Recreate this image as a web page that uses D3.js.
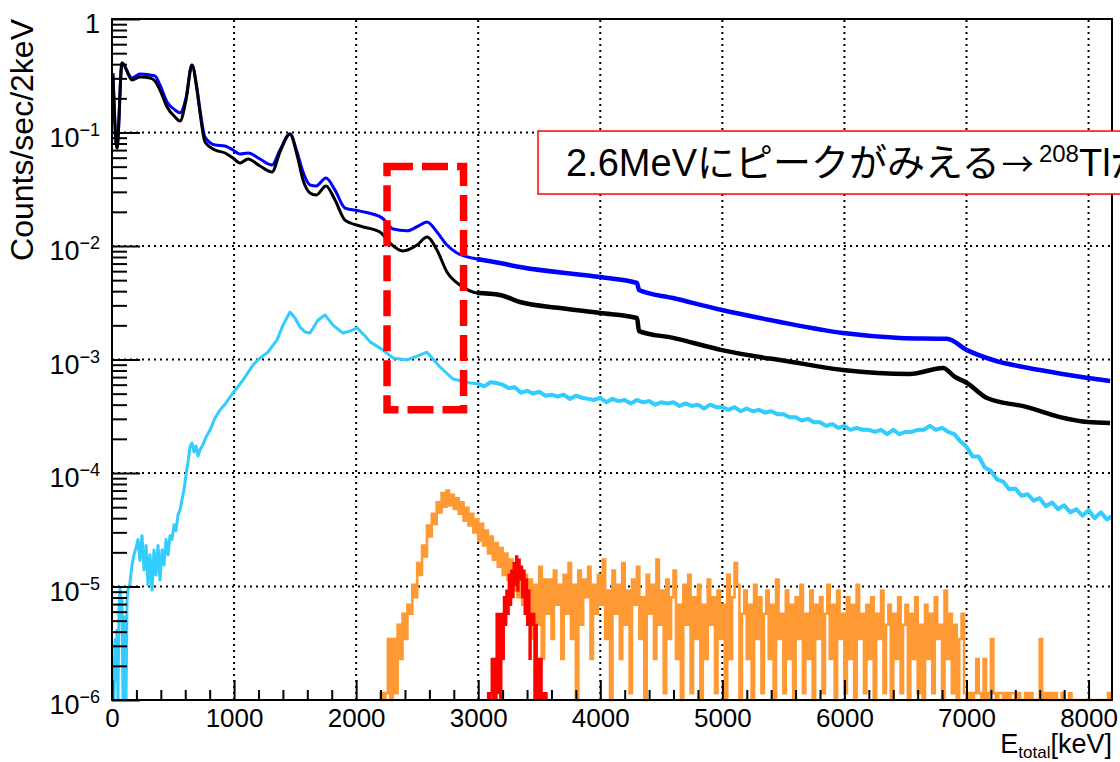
<!DOCTYPE html>
<html>
<head>
<meta charset="utf-8">
<script src="https://cdn.jsdelivr.net/npm/d3@7"></script>
<style>
  html, body { margin: 0; padding: 0; background: #fff; }
  svg { display: block; }
</style>
</head>
<body>
<div id="chart"></div>
<script>
// ---- data ----
// energies in keV, values in counts/sec/2keV
const blueE = [8,41,82,164,229,311,352,393,451,516,557,606,655,696,721,762,844,926,991,1049,1114,1212,1311,1376,1458,1516,1565,1622,1671,1753,1827,1909,2032,2212,2302,2417,2523,2580,2662,2744,2826,2990,3178,3342,3998,4301,4317,4596,4997,5308,5472,5988,6455,6840,7004,7217,7602,7995,8176];
const blueV = [0.334,0.073,0.41,0.302,0.328,0.321,0.315,0.262,0.186,0.158,0.149,0.201,0.393,0.247,0.158,0.0913,0.0776,0.076,0.0701,0.0647,0.066,0.0584,0.0517,0.0701,0.097,0.0673,0.0449,0.0345,0.0338,0.0397,0.0311,0.0216,0.0203,0.0177,0.0141,0.0136,0.0153,0.0163,0.0133,0.0102,0.00867,0.00768,0.00708,0.00653,0.00533,0.00472,0.00409,0.00348,0.00273,0.00232,0.00214,0.00171,0.00155,0.00152,0.00121,0.00099,0.000808,0.000687,0.000647];

const blackE = [8,41,82,164,229,311,352,393,451,516,557,606,655,696,721,762,844,926,991,1049,1114,1212,1311,1376,1458,1516,1565,1622,1671,1753,1827,1909,2032,2195,2277,2384,2499,2580,2662,2744,2851,2990,3178,3342,3670,3998,4301,4317,4596,4997,5308,5472,5988,6537,6808,6906,7004,7168,7496,7766,7995,8176];
const blackV = [0.321,0.073,0.41,0.29,0.308,0.302,0.284,0.237,0.168,0.137,0.126,0.193,0.393,0.237,0.149,0.0825,0.0701,0.066,0.0596,0.0539,0.0584,0.0507,0.0449,0.0673,0.097,0.0633,0.0381,0.0293,0.0281,0.0338,0.0254,0.0169,0.015,0.0133,0.0106,0.00904,0.0102,0.012,0.00922,0.0059,0.00453,0.00385,0.0037,0.00321,0.00284,0.00257,0.00232,0.00178,0.00155,0.00121,0.00105,0.00099,0.000808,0.000745,0.000841,0.000701,0.000621,0.000458,0.000381,0.000311,0.000281,0.000276];

const cyanLowE = [0,8,16,25,33,41,49,57,66,74,82,90,98,106,115,123,131,147,164,180,197,213,229,246,262,279,295,311,328,344,360,377,393,410,426,442,459,475,491,508,524,541,557,573,590,606,623,639,655,672,688,705,721,745,770,803,844,885,934,991,1073,1155,1212,1270,1352,1401,1458,1499,1540,1581,1622,1688,1745,1810,1892,1950,2007,2073,2114,2220,2302,2417,2499,2580,2687,2793,2933];
const cyanLowV = [0,2.25e-6,0,3.4e-6,1.5e-6,4.1e-6,0,6.2e-6,9.9e-6,5.1e-6,7.6e-6,0,5.1e-6,5.4e-6,0,7.6e-6,9.3e-6,1.07e-5,1.55e-5,1.9e-5,2.2e-5,2.6e-5,1.7e-5,2.8e-5,1.4e-5,2.3e-5,1.03e-5,1.9e-5,9.3e-6,2.1e-5,1.26e-5,2.3e-5,1.14e-5,2.1e-5,1.55e-5,2.6e-5,1.9e-5,2.8e-5,2.6e-5,3.5e-5,3.1e-5,4.3e-5,4.7e-5,5.8e-5,7.1e-5,9.6e-5,1.25e-4,1.70e-4,1.84e-4,1.53e-4,1.73e-4,1.41e-4,1.60e-4,1.77e-4,2.07e-4,2.39e-4,3.05e-4,3.59e-4,4.14e-4,5.07e-4,6.59e-4,8.95e-4,1.03e-3,1.14e-3,1.49e-3,2.01e-3,2.62e-3,2.32e-3,1.93e-3,1.75e-3,1.71e-3,2.23e-3,2.47e-3,2.01e-3,1.71e-3,1.78e-3,1.90e-3,1.61e-3,1.43e-3,1.21e-3,1.03e-3,9.91e-4,1.07e-3,1.16e-3,8.59e-4,6.73e-4,6.21e-4];
// cyan above 3 MeV, one value every 50 keV
const cyanHighStart = 3000, cyanHighStep = 50;
const cyanHighV = [0.00061,0.00058,0.00063,0.00062,0.00060,0.00056,0.00057,0.00051,0.00053,0.00050,
  0.00052,0.00048,0.00049,0.00047,0.00049,0.00045,0.00048,0.00046,0.00045,0.00044,
  0.00046,0.00042,0.00045,0.00043,0.00044,0.00041,0.00044,0.00042,0.00043,0.00040,
  0.00042,0.00041,0.00042,0.00039,0.00041,0.00039,0.00040,0.00037,0.00040,0.00038,
  0.00038,0.00036,0.00038,0.00035,0.00037,0.00035,0.00036,0.00034,0.00035,0.00033,
  0.00033,0.00031,0.00031,0.00029,0.00030,0.00028,0.00028,0.00026,0.00027,0.00025,
  0.00026,0.00024,0.00025,0.00024,0.00024,0.00023,0.00024,0.00022,0.00024,0.00022,
  0.00023,0.00023,0.00024,0.00024,0.00026,0.00024,0.00025,0.00023,0.00022,0.00019,
  0.00017,0.00014,0.00014,0.000112,0.000104,8.8e-5,8.4e-5,7.2e-5,7.3e-5,6.3e-5,
  6.5e-5,5.7e-5,6.0e-5,5.1e-5,5.5e-5,4.8e-5,5.2e-5,4.5e-5,4.8e-5,4.2e-5,
  4.7e-5,4.0e-5,4.5e-5,3.9e-5,4.2e-5];

// low-statistics spectra: counts per bin, one count = countUnit
const countUnit = 1.15e-6;
const orangeStart = 2180, orangeStep = 20;
const orangeCounts = [0,1,0,1,3,0,3,1,4,2, 5,3,6,5,9,7,14,11,20,16, 30,24,38,31,48,39,58,44,61,45,
  56,42,52,38,48,33,43,30,38,26, 34,22,31,20,27,17,24,15,21,13, 19,11,17,10,15,8,13,7,12,6,
  11,5,10,3,9,4,13,2,10,5, 10,3,12,6,9,2,11,5,14,3, 9,0,12,4,10,7,13,2,9,5,
  11,6,15,3,8,0,12,5,9,2, 14,4,8,1,10,6,13,3,7,0, 11,5,9,2,15,4,8,1,10,3,
  7,12,2,6,0,9,4,11,1,7, 3,9,0,6,2,10,4,7,1,8, 3,6,0,11,2,7,14,9,0,5,
  8,2,6,0,9,3,7,1,5,8, 2,6,0,10,3,5,1,8,2,6, 0,7,3,9,1,5,2,8,0,6,
  3,7,1,5,9,2,6,0,8,3, 5,1,7,2,6,0,9,3,5,1, 6,2,7,0,5,3,8,1,4,6,
  0,5,2,7,1,4,6,0,5,2, 7,1,4,0,6,2,5,1,7,3, 4,0,8,2,5,1,4,0,3,5,
  1,0,1,0,1,2,1,0,2,0, 1,3,1,0,1,1,0,1,0,1, 1,0,1,0,0,1,0,1,0,0,
  0,3,0,1,0,1,0,1,0,0, 1,0,0,1,0,0,0,0,0,0, 0,0,0,0,0,0,0,0,0,1, 0];
const redStart = 3080, redStep = 10;
const redCounts = [1,0,1,2,0,2,0,5,1,5, 0,5,2,7,4,8,5,11,6,12, 7,14,9,16,8,15,10,13,7,12,
  5,10,4,8,2,5,4,5,0,4, 0,2,0,2,0,1,0,1,0];

// axes
const xRange = [0, 8192];
const yRange = [1e-6, 1];
const xMajor = [0,1000,2000,3000,4000,5000,6000,7000,8000];
const xMinorStep = 200;
const yExponents = [0,-1,-2,-3,-4,-5,-6];

// annotations (data coordinates)
const boxE = [2253, 2880], boxV = [0.0502, 3.6e-4];
const noteE = 3490, noteV = [0.103, 0.0287];

// ---- drawing ----
const latin = "'Liberation Sans', Arial, Helvetica, sans-serif";
const cjk = "'Noto Sans CJK JP', sans-serif";
const svg = d3.select("#chart").append("svg")
  .attr("width", 1120).attr("height", 762)
  .style("font-family", latin);

const x = d3.scaleLinear().domain(xRange).range([112, 1112]);
const y = d3.scaleLog().domain(yRange).range([700, 19]);
const yv = v => v > 0 ? y(v) : y.range()[0];

svg.append("defs").append("clipPath").attr("id", "plot")
  .append("rect").attr("x", x(xRange[0])).attr("y", y(yRange[1]))
  .attr("width", x(xRange[1]) - x(xRange[0])).attr("height", y(yRange[0]) - y(yRange[1]) + 2);

// grid
const grid = svg.append("g").attr("stroke", "#000").attr("stroke-width", 2).attr("stroke-dasharray", "2,4");
grid.selectAll(".gx").data(xMajor.slice(1)).join("line")
  .attr("x1", d => x(d)).attr("x2", d => x(d)).attr("y1", y.range()[0]).attr("y2", y.range()[1]);
grid.selectAll(".gy").data(yExponents.slice(1, -1)).join("line")
  .attr("y1", d => y(Math.pow(10, d))).attr("y2", d => y(Math.pow(10, d)))
  .attr("x1", x.range()[0]).attr("x2", x.range()[1]);

// series
const pairs = (es, vs) => es.map((e, i) => [e, vs[i]]);
const bins = (start, step, counts) => counts.map((c, i) => [start + i * step, c * countUnit]);
const smooth = d3.line().x(d => x(d[0])).y(d => yv(d[1])).curve(d3.curveMonotoneX);
const straight = d3.line().x(d => x(d[0])).y(d => yv(d[1]));
const steps = d3.line().x(d => x(d[0])).y(d => yv(d[1])).curve(d3.curveStepAfter);

const series = svg.append("g").attr("clip-path", "url(#plot)").attr("fill", "none")
  .attr("stroke-linejoin", "round");

// the high-energy tails are noisy, so they are drawn a bit thicker
const tailFrom = 2990;
function draw(pts, gen, color, w, wTail) {
  series.append("path").attr("d", gen(pts)).attr("stroke", color).attr("stroke-width", w);
  series.append("path").attr("d", gen(pts.filter(d => d[0] >= tailFrom)))
    .attr("stroke", color).attr("stroke-width", wTail);
}
draw(pairs(blueE, blueV), smooth, "#0000ff", 3, 4.5);
draw(pairs(blackE, blackV), smooth, "#000000", 3, 4.5);

const cyanPts = pairs(cyanLowE, cyanLowV)
  .concat(cyanHighV.map((v, i) => [cyanHighStart + i * cyanHighStep, v]));
draw(cyanPts, straight, "#33ccff", 3, 4);

const orangePts = bins(orangeStart, orangeStep, orangeCounts);
orangePts.push([orangeStart + orangeCounts.length * orangeStep, 0]);
series.append("path").attr("d", steps(orangePts))
  .attr("stroke", "#ff9933").attr("stroke-width", 2.6).attr("stroke-linejoin", "miter");

const redPts = [[xRange[0], 0]].concat(bins(redStart, redStep, redCounts));
redPts.push([redStart + redCounts.length * redStep, 0], [xRange[1], 0]);
series.append("path").attr("d", steps(redPts))
  .attr("stroke", "#ff0000").attr("stroke-width", 2.2).attr("stroke-linejoin", "miter");

// frame
svg.append("rect")
  .attr("x", x.range()[0]).attr("y", y.range()[1])
  .attr("width", x.range()[1] - x.range()[0]).attr("height", y.range()[0] - y.range()[1])
  .attr("fill", "none").attr("stroke", "#000").attr("stroke-width", 2);

// x axis ticks (pointing into the plot)
const xMinor = d3.range(xRange[0], xRange[1], xMinorStep).filter(v => v % 1000 !== 0);
svg.append("g").attr("transform", `translate(0,${y.range()[0]})`)
  .call(d3.axisBottom(x).tickValues(xMinor).tickSizeInner(-10).tickSizeOuter(0).tickFormat(""))
  .call(g => g.select(".domain").remove())
  .call(g => g.selectAll("line").attr("stroke-width", 2));
svg.append("g").attr("transform", `translate(0,${y.range()[0]})`)
  .call(d3.axisBottom(x).tickValues(xMajor).tickSizeInner(-20).tickSizeOuter(0).tickPadding(9)
    .tickFormat(d3.format("d")))
  .call(g => g.select(".domain").remove())
  .call(g => g.selectAll("line").attr("stroke-width", 2))
  .call(g => g.selectAll("text").attr("font-size", 26).attr("fill", "#000").style("font-family", latin));

// y axis ticks
const yMinor = [];
yExponents.slice(1).forEach(e => { for (let k = 2; k <= 9; k++) yMinor.push(k * Math.pow(10, e)); });
svg.append("g").attr("transform", `translate(${x.range()[0]},0)`)
  .call(d3.axisLeft(y).tickValues(yMinor).tickSizeInner(-15).tickSizeOuter(0).tickFormat(""))
  .call(g => g.select(".domain").remove())
  .call(g => g.selectAll("line").attr("stroke-width", 2));
svg.append("g").attr("transform", `translate(${x.range()[0]},0)`)
  .call(d3.axisLeft(y).tickValues(yExponents.map(e => Math.pow(10, e))).tickSizeInner(-28).tickSizeOuter(0).tickFormat(""))
  .call(g => g.select(".domain").remove())
  .call(g => g.selectAll("line").attr("stroke-width", 2));

const yLab = svg.append("g").attr("font-size", 27).attr("text-anchor", "end").attr("fill", "#000");
yExponents.forEach(e => {
  const t = yLab.append("text").attr("x", x.range()[0] - 12).attr("y", y(Math.pow(10, e)) + 14);
  if (e === 0) { t.text("1"); return; }
  t.append("tspan").text("10");
  t.append("tspan").attr("dy", -11).attr("font-size", 18).text("\u2212" + (-e));
});

// axis titles
svg.append("text")
  .attr("transform", `translate(33,${y.range()[1]}) rotate(-90)`)
  .attr("text-anchor", "end").attr("font-size", 32).text("Counts/sec/2keV");
const xt = svg.append("text").attr("x", x.range()[1]).attr("y", 753)
  .attr("text-anchor", "end").attr("font-size", 27);
xt.append("tspan").text("E");
xt.append("tspan").attr("font-size", 17).attr("dy", 5).text("total");
xt.append("tspan").attr("dy", -5).text("[keV]");

// red dashed box around the 2.6 MeV peak
svg.append("rect")
  .attr("x", x(boxE[0])).attr("y", y(boxV[0]))
  .attr("width", x(boxE[1]) - x(boxE[0])).attr("height", y(boxV[1]) - y(boxV[0]))
  .attr("fill", "none").attr("stroke", "#ff0000").attr("stroke-width", 7.5)
  .attr("stroke-dasharray", "26,9");

// note box
const note = svg.append("g");
note.append("rect")
  .attr("x", x(noteE)).attr("y", y(noteV[0]))
  .attr("width", 700).attr("height", y(noteV[1]) - y(noteV[0]))
  .attr("fill", "#fff").attr("stroke", "#ff0000").attr("stroke-width", 1.5);
const nt = note.append("text")
  .attr("x", x(noteE) + 28).attr("y", y(noteV[1]) - 18)
  .attr("font-size", 38).attr("fill", "#000");
nt.append("tspan").style("font-family", latin).text("2.6MeV");
nt.append("tspan").style("font-family", cjk).text("にピークがみえる");
nt.append("tspan").style("font-family", cjk).attr("font-size", 32).attr("dx", 2).text("\u2192");
nt.append("tspan").style("font-family", latin).attr("font-size", 24).attr("dy", -14).attr("dx", 5).text("208");
nt.append("tspan").style("font-family", latin).attr("dy", 14).text("Tl");
nt.append("tspan").style("font-family", cjk).text("が");
</script>
</body>
</html>
